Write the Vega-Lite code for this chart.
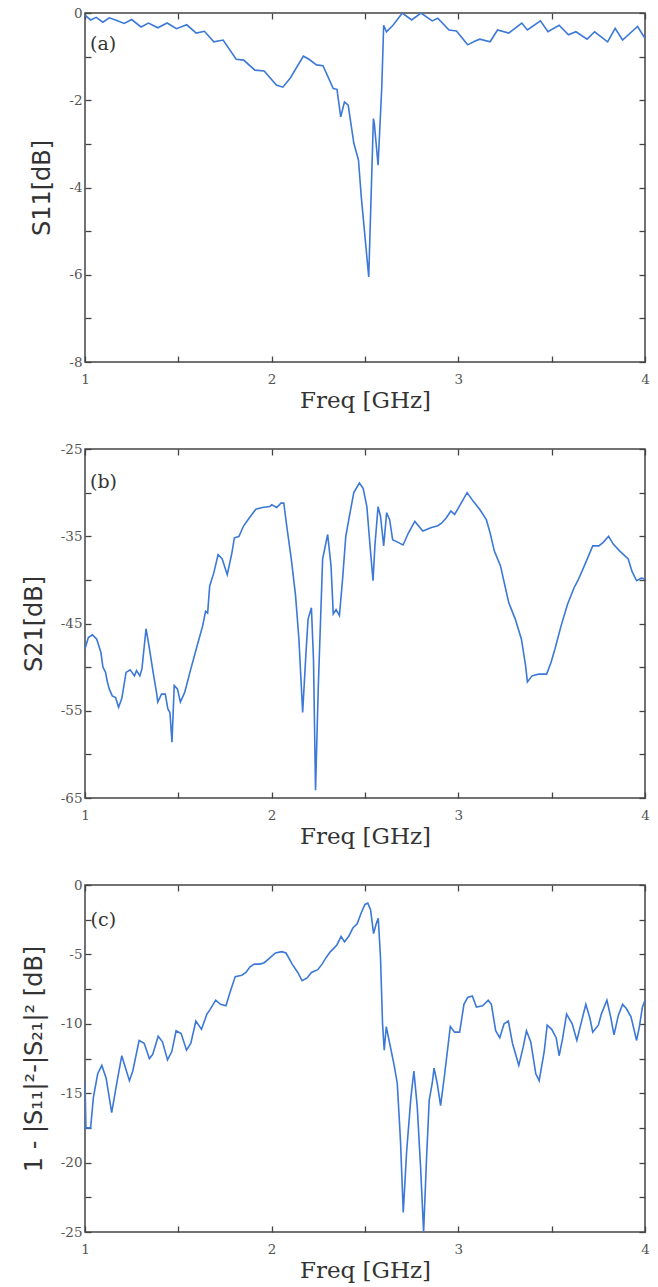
{
  "$schema": "https://vega.github.io/schema/vega-lite/v6.json",
  "padding": {"left": 21, "top": 5, "right": 10, "bottom": 2},
  "spacing": 27,
  "config": {
    "view": {"stroke": "#444", "strokeWidth": 1.5},
    "axis": {
      "domain": false, "grid": false,
      "tickColor": "#444", "tickWidth": 1.3, "tickSize": -6,
      "labelFont": "DejaVu Serif", "labelFontSize": 13.5, "labelColor": "#555",
      "labelOverlap": false, "labelFlush": false, "labelPadding": 9,
      "titleColor": "#333", "titleFontWeight": "normal"
    },
    "axisX": {"titleFont": "DejaVu Serif", "titleFontSize": 23, "titlePadding": 4, "labelPadding": 16},
    "axisY": {"titleFont": "DejaVu Sans", "titleFontSize": 24, "titlePadding": 14},
    "text": {"font": "DejaVu Serif", "fontSize": 19, "color": "#333"}
  },
  "datasets": {
    "a": [
      {"f":1.0,"v":-0.05},{"f":1.03,"v":-0.16},{"f":1.06,"v":-0.10},{"f":1.096,"v":-0.21},{"f":1.13,"v":-0.11},{"f":1.17,"v":-0.17},{"f":1.21,"v":-0.24},{"f":1.25,"v":-0.15},{"f":1.30,"v":-0.32},{"f":1.34,"v":-0.23},{"f":1.39,"v":-0.34},{"f":1.44,"v":-0.23},{"f":1.49,"v":-0.36},{"f":1.545,"v":-0.27},{"f":1.596,"v":-0.46},{"f":1.64,"v":-0.42},{"f":1.69,"v":-0.66},{"f":1.74,"v":-0.62},{"f":1.81,"v":-1.06},{"f":1.85,"v":-1.08},{"f":1.91,"v":-1.31},{"f":1.96,"v":-1.33},{"f":2.025,"v":-1.65},{"f":2.06,"v":-1.70},{"f":2.10,"v":-1.49},{"f":2.17,"v":-0.99},{"f":2.20,"v":-1.06},{"f":2.24,"v":-1.19},{"f":2.275,"v":-1.21},{"f":2.33,"v":-1.73},{"f":2.35,"v":-1.75},{"f":2.37,"v":-2.38},{"f":2.39,"v":-2.04},{"f":2.41,"v":-2.11},{"f":2.44,"v":-2.98},{"f":2.465,"v":-3.37},{"f":2.48,"v":-4.21},{"f":2.52,"v":-6.05},{"f":2.545,"v":-2.42},{"f":2.55,"v":-2.53},{"f":2.57,"v":-3.49},{"f":2.59,"v":-1.69},{"f":2.60,"v":-0.28},{"f":2.615,"v":-0.43},{"f":2.65,"v":-0.28},{"f":2.70,"v":0.0},{"f":2.75,"v":-0.16},{"f":2.80,"v":0.0},{"f":2.86,"v":-0.18},{"f":2.89,"v":-0.12},{"f":2.95,"v":-0.39},{"f":2.99,"v":-0.41},{"f":3.05,"v":-0.73},{"f":3.09,"v":-0.64},{"f":3.115,"v":-0.6},{"f":3.17,"v":-0.66},{"f":3.21,"v":-0.39},{"f":3.27,"v":-0.46},{"f":3.34,"v":-0.23},{"f":3.37,"v":-0.39},{"f":3.44,"v":-0.18},{"f":3.48,"v":-0.43},{"f":3.54,"v":-0.28},{"f":3.59,"v":-0.5},{"f":3.63,"v":-0.43},{"f":3.69,"v":-0.6},{"f":3.73,"v":-0.43},{"f":3.80,"v":-0.66},{"f":3.84,"v":-0.35},{"f":3.88,"v":-0.62},{"f":3.96,"v":-0.31},{"f":4.0,"v":-0.58}
    ],
    "b": [
      {"f":1.0,"v":-47.9},{"f":1.018,"v":-46.6},{"f":1.04,"v":-46.3},{"f":1.063,"v":-46.8},{"f":1.085,"v":-48.3},{"f":1.096,"v":-50.0},{"f":1.11,"v":-50.6},{"f":1.12,"v":-51.7},{"f":1.13,"v":-52.5},{"f":1.146,"v":-53.3},{"f":1.164,"v":-53.5},{"f":1.18,"v":-54.6},{"f":1.197,"v":-53.6},{"f":1.22,"v":-50.6},{"f":1.242,"v":-50.3},{"f":1.265,"v":-51.0},{"f":1.276,"v":-50.4},{"f":1.294,"v":-51.0},{"f":1.305,"v":-50.2},{"f":1.327,"v":-45.6},{"f":1.343,"v":-47.6},{"f":1.365,"v":-50.6},{"f":1.383,"v":-52.9},{"f":1.39,"v":-54.0},{"f":1.41,"v":-53.1},{"f":1.43,"v":-53.1},{"f":1.444,"v":-54.8},{"f":1.455,"v":-55.2},{"f":1.466,"v":-58.6},{"f":1.478,"v":-52.1},{"f":1.495,"v":-52.5},{"f":1.511,"v":-54.0},{"f":1.534,"v":-52.9},{"f":1.567,"v":-50.2},{"f":1.60,"v":-47.6},{"f":1.63,"v":-45.3},{"f":1.646,"v":-43.6},{"f":1.657,"v":-43.8},{"f":1.668,"v":-40.7},{"f":1.69,"v":-39.2},{"f":1.713,"v":-37.1},{"f":1.735,"v":-37.6},{"f":1.762,"v":-39.4},{"f":1.787,"v":-36.9},{"f":1.80,"v":-35.2},{"f":1.825,"v":-35.0},{"f":1.85,"v":-33.8},{"f":1.88,"v":-32.9},{"f":1.915,"v":-31.9},{"f":1.95,"v":-31.7},{"f":1.99,"v":-31.6},{"f":2.0,"v":-31.4},{"f":2.027,"v":-31.7},{"f":2.05,"v":-31.2},{"f":2.065,"v":-31.2},{"f":2.083,"v":-34.2},{"f":2.105,"v":-37.6},{"f":2.128,"v":-41.8},{"f":2.146,"v":-46.8},{"f":2.166,"v":-55.2},{"f":2.184,"v":-48.3},{"f":2.195,"v":-44.5},{"f":2.213,"v":-43.2},{"f":2.224,"v":-49.1},{"f":2.235,"v":-64.1},{"f":2.25,"v":-52.1},{"f":2.273,"v":-37.6},{"f":2.30,"v":-34.8},{"f":2.318,"v":-38.4},{"f":2.33,"v":-43.9},{"f":2.345,"v":-43.4},{"f":2.363,"v":-44.1},{"f":2.38,"v":-39.9},{"f":2.397,"v":-35.0},{"f":2.42,"v":-32.3},{"f":2.44,"v":-30.0},{"f":2.47,"v":-28.9},{"f":2.49,"v":-29.5},{"f":2.51,"v":-31.6},{"f":2.527,"v":-36.1},{"f":2.543,"v":-40.1},{"f":2.553,"v":-36.1},{"f":2.57,"v":-31.6},{"f":2.583,"v":-32.7},{"f":2.60,"v":-36.1},{"f":2.616,"v":-32.3},{"f":2.632,"v":-33.1},{"f":2.648,"v":-35.4},{"f":2.677,"v":-35.7},{"f":2.704,"v":-36.0},{"f":2.733,"v":-34.6},{"f":2.767,"v":-33.3},{"f":2.81,"v":-34.4},{"f":2.856,"v":-34.0},{"f":2.89,"v":-33.8},{"f":2.91,"v":-33.5},{"f":2.935,"v":-32.9},{"f":2.96,"v":-32.1},{"f":2.98,"v":-32.5},{"f":3.002,"v":-31.7},{"f":3.047,"v":-30.0},{"f":3.08,"v":-31.0},{"f":3.114,"v":-31.9},{"f":3.15,"v":-33.1},{"f":3.17,"v":-34.6},{"f":3.193,"v":-36.7},{"f":3.226,"v":-38.4},{"f":3.25,"v":-40.7},{"f":3.27,"v":-42.6},{"f":3.305,"v":-44.5},{"f":3.338,"v":-46.8},{"f":3.36,"v":-49.8},{"f":3.37,"v":-51.7},{"f":3.395,"v":-51.0},{"f":3.43,"v":-50.8},{"f":3.473,"v":-50.8},{"f":3.496,"v":-49.5},{"f":3.518,"v":-47.9},{"f":3.55,"v":-45.3},{"f":3.585,"v":-42.8},{"f":3.62,"v":-40.9},{"f":3.64,"v":-40.1},{"f":3.675,"v":-38.4},{"f":3.72,"v":-36.1},{"f":3.753,"v":-36.1},{"f":3.776,"v":-35.7},{"f":3.805,"v":-35.0},{"f":3.83,"v":-35.9},{"f":3.865,"v":-36.7},{"f":3.91,"v":-37.6},{"f":3.93,"v":-39.0},{"f":3.955,"v":-40.1},{"f":3.98,"v":-39.8},{"f":4.0,"v":-39.9}
    ],
    "c": [
      {"f":1.0,"v":-14.2},{"f":1.005,"v":-17.5},{"f":1.03,"v":-17.5},{"f":1.045,"v":-15.3},{"f":1.068,"v":-13.6},{"f":1.09,"v":-13.0},{"f":1.113,"v":-13.9},{"f":1.143,"v":-16.4},{"f":1.17,"v":-14.3},{"f":1.197,"v":-12.3},{"f":1.215,"v":-13.1},{"f":1.238,"v":-14.1},{"f":1.256,"v":-13.4},{"f":1.29,"v":-11.2},{"f":1.317,"v":-11.4},{"f":1.345,"v":-12.5},{"f":1.363,"v":-12.2},{"f":1.392,"v":-10.9},{"f":1.415,"v":-11.3},{"f":1.442,"v":-12.6},{"f":1.465,"v":-12.0},{"f":1.488,"v":-10.5},{"f":1.515,"v":-10.7},{"f":1.544,"v":-11.9},{"f":1.567,"v":-11.4},{"f":1.594,"v":-9.8},{"f":1.624,"v":-10.4},{"f":1.653,"v":-9.3},{"f":1.669,"v":-9.0},{"f":1.70,"v":-8.3},{"f":1.726,"v":-8.6},{"f":1.755,"v":-8.7},{"f":1.78,"v":-7.6},{"f":1.805,"v":-6.6},{"f":1.84,"v":-6.5},{"f":1.862,"v":-6.3},{"f":1.884,"v":-5.9},{"f":1.907,"v":-5.7},{"f":1.937,"v":-5.7},{"f":1.96,"v":-5.6},{"f":1.986,"v":-5.3},{"f":2.02,"v":-4.9},{"f":2.054,"v":-4.8},{"f":2.077,"v":-4.9},{"f":2.11,"v":-5.7},{"f":2.14,"v":-6.3},{"f":2.163,"v":-6.9},{"f":2.19,"v":-6.7},{"f":2.213,"v":-6.3},{"f":2.247,"v":-6.1},{"f":2.27,"v":-5.7},{"f":2.293,"v":-5.2},{"f":2.315,"v":-4.8},{"f":2.33,"v":-4.6},{"f":2.35,"v":-4.3},{"f":2.372,"v":-3.7},{"f":2.39,"v":-4.1},{"f":2.413,"v":-3.7},{"f":2.435,"v":-3.1},{"f":2.458,"v":-2.8},{"f":2.48,"v":-2.0},{"f":2.50,"v":-1.4},{"f":2.515,"v":-1.3},{"f":2.53,"v":-1.8},{"f":2.546,"v":-3.5},{"f":2.56,"v":-2.8},{"f":2.571,"v":-2.4},{"f":2.583,"v":-5.2},{"f":2.594,"v":-10.0},{"f":2.603,"v":-11.9},{"f":2.614,"v":-10.2},{"f":2.632,"v":-11.4},{"f":2.655,"v":-12.9},{"f":2.673,"v":-14.3},{"f":2.69,"v":-18.4},{"f":2.705,"v":-23.6},{"f":2.723,"v":-19.2},{"f":2.746,"v":-15.3},{"f":2.762,"v":-13.4},{"f":2.78,"v":-16.0},{"f":2.798,"v":-20.4},{"f":2.814,"v":-25.0},{"f":2.83,"v":-19.6},{"f":2.844,"v":-15.5},{"f":2.86,"v":-14.3},{"f":2.87,"v":-13.2},{"f":2.887,"v":-14.3},{"f":2.905,"v":-15.9},{"f":2.927,"v":-13.6},{"f":2.957,"v":-10.2},{"f":2.98,"v":-10.6},{"f":3.007,"v":-10.6},{"f":3.03,"v":-8.6},{"f":3.05,"v":-8.1},{"f":3.075,"v":-8.0},{"f":3.097,"v":-8.8},{"f":3.13,"v":-8.7},{"f":3.16,"v":-8.3},{"f":3.177,"v":-8.6},{"f":3.2,"v":-10.5},{"f":3.222,"v":-11.0},{"f":3.245,"v":-10.0},{"f":3.268,"v":-9.8},{"f":3.29,"v":-11.4},{"f":3.324,"v":-13.0},{"f":3.347,"v":-11.7},{"f":3.365,"v":-10.5},{"f":3.388,"v":-11.3},{"f":3.415,"v":-13.6},{"f":3.433,"v":-14.1},{"f":3.46,"v":-12.0},{"f":3.476,"v":-10.1},{"f":3.5,"v":-10.4},{"f":3.524,"v":-11.0},{"f":3.54,"v":-12.3},{"f":3.558,"v":-11.1},{"f":3.58,"v":-9.3},{"f":3.61,"v":-10.0},{"f":3.635,"v":-11.2},{"f":3.653,"v":-10.2},{"f":3.683,"v":-8.6},{"f":3.705,"v":-9.6},{"f":3.72,"v":-10.6},{"f":3.75,"v":-10.1},{"f":3.766,"v":-9.3},{"f":3.796,"v":-8.3},{"f":3.816,"v":-9.5},{"f":3.834,"v":-10.8},{"f":3.857,"v":-9.4},{"f":3.88,"v":-8.6},{"f":3.90,"v":-8.9},{"f":3.925,"v":-9.5},{"f":3.955,"v":-11.2},{"f":3.97,"v":-10.2},{"f":3.986,"v":-8.8},{"f":4.0,"v":-8.3}
    ]
  },
  "vconcat": [
    {
      "width": 560, "height": 349,
      "resolve": {"axis": {"x": "independent", "y": "independent"}},
      "layer": [
        {
          "data": {"name": "a"},
          "mark": {"type": "line", "color": "#3b78d8", "strokeWidth": 1.6, "clip": true},
          "encoding": {
            "x": {"field": "f", "type": "quantitative", "scale": {"domain": [1, 4], "nice": false, "zero": false},
              "axis": {"orient": "bottom", "title": "Freq [GHz]", "values": [1,1.5,2,2.5,3,3.5,4], "labelExpr": "datum.value % 1 == 0 ? toString(datum.value) : ''"}},
            "y": {"field": "v", "type": "quantitative", "scale": {"domain": [-8, 0], "nice": false, "zero": false},
              "axis": {"orient": "left", "title": "S11[dB]", "values": [-8,-7,-6,-5,-4,-3,-2,-1,0], "labelExpr": "datum.value % 2 == 0 ? toString(datum.value) : ''"}}
          }
        },
        {
          "data": {"values": [{"t": "(a)"}]},
          "mark": {"type": "text", "align": "left", "baseline": "middle"},
          "encoding": {
            "text": {"field": "t"},
            "x": {"datum": 1.027, "type": "quantitative", "axis": {"orient": "top", "title": null, "labels": false, "values": [1,1.5,2,2.5,3,3.5,4]}},
            "y": {"datum": -0.7, "type": "quantitative", "axis": {"orient": "right", "title": null, "labels": false, "values": [-8,-7,-6,-5,-4,-3,-2,-1,0]}}
          }
        }
      ]
    },
    {
      "width": 560, "height": 349,
      "resolve": {"axis": {"x": "independent", "y": "independent"}},
      "layer": [
        {
          "data": {"name": "b"},
          "mark": {"type": "line", "color": "#3b78d8", "strokeWidth": 1.6, "clip": true},
          "encoding": {
            "x": {"field": "f", "type": "quantitative", "scale": {"domain": [1, 4], "nice": false, "zero": false},
              "axis": {"orient": "bottom", "title": "Freq [GHz]", "values": [1,1.5,2,2.5,3,3.5,4], "labelExpr": "datum.value % 1 == 0 ? toString(datum.value) : ''"}},
            "y": {"field": "v", "type": "quantitative", "scale": {"domain": [-65, -25], "nice": false, "zero": false},
              "axis": {"orient": "left", "title": "S21[dB]", "values": [-65,-60,-55,-50,-45,-40,-35,-30,-25], "labelExpr": "(datum.value + 25) % 10 == 0 ? toString(datum.value) : ''"}}
          }
        },
        {
          "data": {"values": [{"t": "(b)"}]},
          "mark": {"type": "text", "align": "left", "baseline": "middle"},
          "encoding": {
            "text": {"field": "t"},
            "x": {"datum": 1.027, "type": "quantitative", "axis": {"orient": "top", "title": null, "labels": false, "values": [1,1.5,2,2.5,3,3.5,4]}},
            "y": {"datum": -28.8, "type": "quantitative", "axis": {"orient": "right", "title": null, "labels": false, "values": [-65,-60,-55,-50,-45,-40,-35,-30,-25]}}
          }
        }
      ]
    },
    {
      "width": 560, "height": 347,
      "resolve": {"axis": {"x": "independent", "y": "independent"}},
      "layer": [
        {
          "data": {"name": "c"},
          "mark": {"type": "line", "color": "#3b78d8", "strokeWidth": 1.6, "clip": true},
          "encoding": {
            "x": {"field": "f", "type": "quantitative", "scale": {"domain": [1, 4], "nice": false, "zero": false},
              "axis": {"orient": "bottom", "title": "Freq [GHz]", "values": [1,1.5,2,2.5,3,3.5,4], "labelExpr": "datum.value % 1 == 0 ? toString(datum.value) : ''"}},
            "y": {"field": "v", "type": "quantitative", "scale": {"domain": [-25, 0], "nice": false, "zero": false},
              "axis": {"orient": "left", "title": "1 - |S₁₁|²-|S₂₁|² [dB]", "values": [-25,-22.5,-20,-17.5,-15,-12.5,-10,-7.5,-5,-2.5,0], "labelExpr": "datum.value % 5 == 0 ? toString(datum.value) : ''"}}
          }
        },
        {
          "data": {"values": [{"t": "(c)"}]},
          "mark": {"type": "text", "align": "left", "baseline": "middle"},
          "encoding": {
            "text": {"field": "t"},
            "x": {"datum": 1.03, "type": "quantitative", "axis": {"orient": "top", "title": null, "labels": false, "values": [1,1.5,2,2.5,3,3.5,4]}},
            "y": {"datum": -2.5, "type": "quantitative", "axis": {"orient": "right", "title": null, "labels": false, "values": [-25,-22.5,-20,-17.5,-15,-12.5,-10,-7.5,-5,-2.5,0]}}
          }
        }
      ]
    }
  ]
}
